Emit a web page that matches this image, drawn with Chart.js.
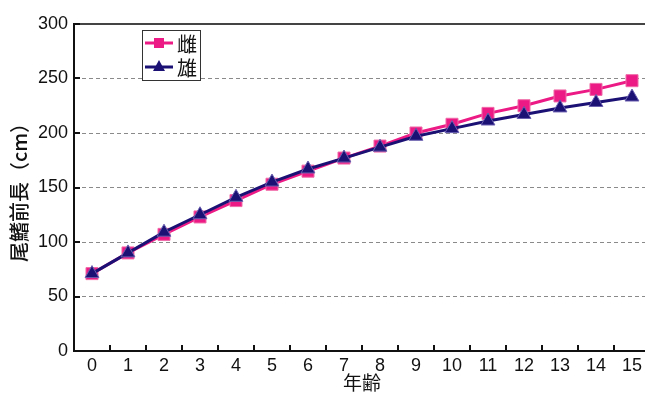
<!DOCTYPE html>
<html>
<head>
<meta charset="utf-8">
<script src="https://cdn.jsdelivr.net/npm/chart.js@4/dist/chart.umd.min.js"></script>
<style>
  html, body { margin: 0; padding: 0; background: #fff; overflow: hidden; }
  #wrap { width: 645px; height: 394px; overflow: hidden; }
</style>
</head>
<body>
<div id="wrap"><canvas id="chart" width="660" height="394"></canvas></div>
<script>
const ages = ['0', '1', '2', '3', '4', '5', '6', '7', '8', '9', '10', '11', '12', '13', '14', '15'];
const female = [71, 90, 107, 123, 138, 153, 165, 177, 188, 200, 208, 218, 225, 234, 240, 248];
const male = [71, 90, 109, 125, 141, 155, 167, 177, 187, 197, 204, 211, 217, 223, 228, 233];
const yTicks = [0, 50, 100, 150, 200, 250, 300];

const PINK = '#ec1a85';
const NAVY = '#1b1175';
const FONT = '"Liberation Sans", Arial, sans-serif';
const CJK = '"Noto Sans CJK JP", "Noto Sans", sans-serif';

// short tick marks drawn inward from the axes
const innerTicks = {
    id: 'innerTicks',
    afterDatasetsDraw(chart) {
        const ctx = chart.ctx;
        const x = chart.scales.x, y = chart.scales.y;
        const half = (x.getPixelForValue(1) - x.getPixelForValue(0)) / 2;
        ctx.save();
        ctx.strokeStyle = '#111';
        ctx.lineWidth = 2;
        ctx.beginPath();
        for (let i = 0; i < ages.length; i++) {
            const px = Math.round(x.getPixelForValue(i) + half);
            ctx.moveTo(px, y.bottom);
            ctx.lineTo(px, y.bottom - 6);
        }
        yTicks.forEach(v => {
            const py = Math.round(y.getPixelForValue(v));
            ctx.moveTo(x.left, py);
            ctx.lineTo(x.left + 6, py);
        });
        ctx.stroke();
        ctx.restore();
    }
};

// legend box inside the plot area
const boxLegend = {
    id: 'boxLegend',
    afterDraw(chart) {
        const ctx = chart.ctx;
        const left = 142, top = 30, w = 58, h = 50;
        ctx.save();
        ctx.fillStyle = '#fff';
        ctx.fillRect(left, top, w, h);
        ctx.strokeStyle = '#333';
        ctx.lineWidth = 1;
        ctx.strokeRect(left + 0.5, top + 0.5, w, h);
        const items = [
            { label: '雌', color: PINK, style: 'rect' },
            { label: '雄', color: NAVY, style: 'triangle' }
        ];
        items.forEach((it, i) => {
            const cy = top + 13 + i * 24;
            ctx.strokeStyle = it.color;
            ctx.lineWidth = 3;
            ctx.beginPath();
            ctx.moveTo(left + 3, cy);
            ctx.lineTo(left + 31, cy);
            ctx.stroke();
            ctx.fillStyle = it.color;
            ctx.beginPath();
            if (it.style === 'rect') {
                ctx.rect(left + 12, cy - 5, 10, 10);
            } else {
                ctx.moveTo(left + 17, cy - 7);
                ctx.lineTo(left + 23, cy + 4);
                ctx.lineTo(left + 11, cy + 4);
                ctx.closePath();
            }
            ctx.fill();
            ctx.fillStyle = '#111';
            ctx.font = '20px ' + CJK;
            ctx.textBaseline = 'middle';
            ctx.fillText(it.label, left + 35, cy + 1);
        });
        ctx.restore();
    }
};

new Chart(document.getElementById('chart'), {
    type: 'line',
    data: {
        labels: ages,
        datasets: [{
            label: '雌',
            data: female,
            borderColor: PINK,
            backgroundColor: PINK,
            borderWidth: 3,
            pointStyle: 'rect',
            pointRadius: 8.5,
            pointBorderWidth: 1,
            pointBorderColor: '#f06aa8',
            order: 2
        }, {
            label: '雄',
            data: male,
            borderColor: NAVY,
            backgroundColor: NAVY,
            borderWidth: 3,
            pointStyle: 'triangle',
            pointRadius: 8,
            pointBorderWidth: 1,
            pointBorderColor: '#6a5fb0',
            order: 1
        }]
    },
    options: {
        responsive: false,
        animation: false,
        layout: { padding: { top: 24, right: 10, left: 0, bottom: 0 } },
        plugins: {
            legend: { display: false },
            tooltip: { enabled: false }
        },
        scales: {
            x: {
                offset: true,
                grid: { display: false, drawTicks: false },
                border: { color: '#111', width: 2 },
                ticks: { color: '#111', font: { family: FONT, size: 18 }, padding: 4, maxRotation: 0, autoSkip: false },
                title: { display: true, text: '年齢', color: '#111', font: { family: CJK, size: 19 }, padding: 0 },
                afterFit(scale) { scale.height = 43; }
            },
            y: {
                min: 0,
                max: 300,
                afterBuildTicks(scale) { scale.ticks = yTicks.map(v => ({ value: v })); },
                grid: {
                    drawTicks: false,
                    color: ctx => ctx.tick.value === 300 ? '#444' : (ctx.tick.value === 0 ? 'rgba(0,0,0,0)' : '#8a8a8a'),
                    lineWidth: ctx => ctx.tick.value === 300 ? 2 : 1
                },
                border: {
                    color: '#111',
                    width: 2,
                    dash: ctx => ctx.tick && ctx.tick.value === 300 ? [] : [4, 3]
                },
                ticks: { color: '#111', font: { family: FONT, size: 18 }, padding: 6 },
                title: { display: true, text: '尾鰭前長（cm）', color: '#111', font: { family: CJK, size: 20, weight: '500' }, padding: 7 },
                afterFit(scale) { scale.width = 74; }
            }
        }
    },
    plugins: [innerTicks, boxLegend]
});
</script>
</body>
</html>
